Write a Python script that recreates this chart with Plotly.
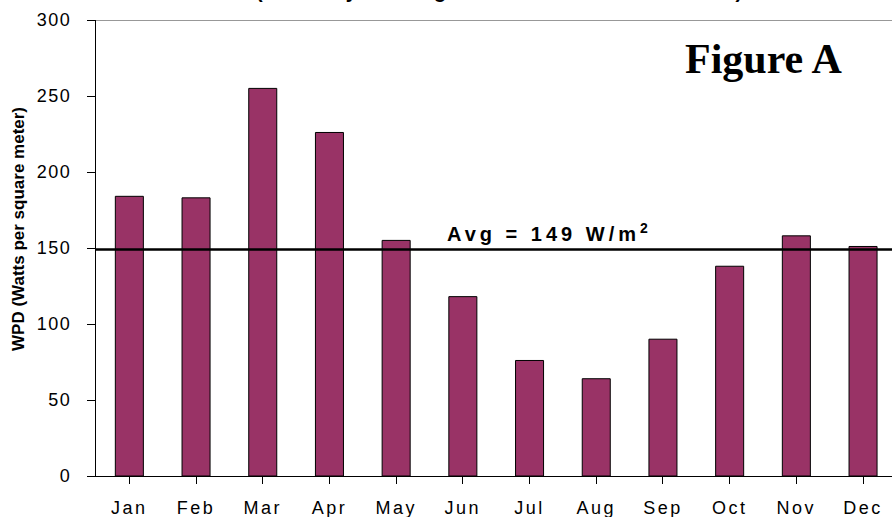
import plotly.graph_objects as go

months = ["Jan", "Feb", "Mar", "Apr", "May", "Jun", "Jul", "Aug", "Sep", "Oct", "Nov", "Dec"]
wpd = [184, 183, 255, 226, 155, 118, 76, 64, 90, 138, 158, 151]
avg_value = 149
y_ticks = [0, 50, 100, 150, 200, 250, 300]

W, H = 892, 517
L, R, T, B = 96, 0, 20, 41
plot_w = W - L - R
plot_h = H - T - B
cat_w = 66.7
x_max = -0.5 + plot_w / cat_w

fig = go.Figure()
fig.add_trace(go.Bar(
    x=list(range(len(months))), y=wpd,
    width=0.42,
    marker=dict(color="#993366", line=dict(color="#000000", width=1)),
    showlegend=False, hoverinfo="skip",
))

fig.add_shape(type="line", xref="paper", yref="y", x0=0, x1=1,
              y0=avg_value, y1=avg_value, line=dict(color="#000000", width=2.5))
fig.add_shape(type="line", xref="paper", yref="y", x0=0, x1=1,
              y0=300, y1=300, line=dict(color="#333333", width=1.2))

fig.add_annotation(text="Avg = 149 W/m<sup>2</sup>", xref="x", yref="y",
                   x=6.3, y=avg_value + 1.5, yanchor="bottom", showarrow=False,
                   font=dict(family="Liberation Sans, Arial", size=20, color="#000000", weight="bold"))
fig.add_annotation(text="Figure A", xref="paper", yref="paper",
                   x=(763 - L) / plot_w, y=(476 - 59) / plot_h, xanchor="center", yanchor="middle",
                   showarrow=False,
                   font=dict(family="Liberation Serif, Times New Roman", size=42, color="#000000", weight="bold"))
fig.add_annotation(text="WPD (Watts per square meter)", xref="paper", yref="paper",
                   x=(18 - L) / plot_w, y=(476 - 229) / plot_h, xanchor="center", yanchor="middle",
                   textangle=-90, showarrow=False,
                   font=dict(family="Liberation Sans, Arial", size=17, color="#000000", weight="bold"))
fig.add_annotation(text="(Monthly Averages at 50 Meter Elevation)", xref="paper", yref="paper",
                   x=(500 - L) / plot_w, y=(476 - 4) / plot_h, xanchor="center", yanchor="bottom",
                   showarrow=False,
                   font=dict(family="Liberation Sans, Arial", size=20, color="#000000", weight="bold"))

fig.update_layout(
    width=W, height=H,
    margin=dict(l=L, r=R, t=T, b=B, pad=0),
    paper_bgcolor="white", plot_bgcolor="white",
    font=dict(family="Liberation Sans, Arial", color="#000000"),
)
fig.update_xaxes(
    range=[-0.5, x_max], tickmode="array", tickvals=list(range(len(months))), ticktext=months,
    tickson="boundaries", ticks="outside", ticklen=7, tickcolor="#000000", tickwidth=1,
    showline=True, linecolor="#000000", linewidth=1.2, showgrid=False, zeroline=False,
    tickfont=dict(size=18, color="#000000"), ticklabelstandoff=8,
)
fig.update_yaxes(
    range=[0, 300], tickmode="array", tickvals=y_ticks,
    ticks="outside", ticklen=8, tickcolor="#000000", tickwidth=1,
    showline=True, linecolor="#000000", linewidth=1.2, showgrid=False, zeroline=False,
    tickfont=dict(size=18, color="#000000"), ticklabelstandoff=12,
)

post = """
document.body.style.margin = '0';
document.querySelectorAll('.xtick text').forEach(function(t){ t.style.letterSpacing = '2.5px'; });
document.querySelectorAll('.ytick text').forEach(function(t){ t.style.letterSpacing = '1.5px'; });
document.querySelectorAll('.annotation-text').forEach(function(t){
  if (t.textContent.indexOf('Avg') === 0) { t.style.letterSpacing = '4px'; }
  if (t.textContent.indexOf('(Monthly') === 0) { t.style.letterSpacing = '2.5px'; }
});
"""
fig.write_html("out.html", post_script=post, config={"displayModeBar": False})
